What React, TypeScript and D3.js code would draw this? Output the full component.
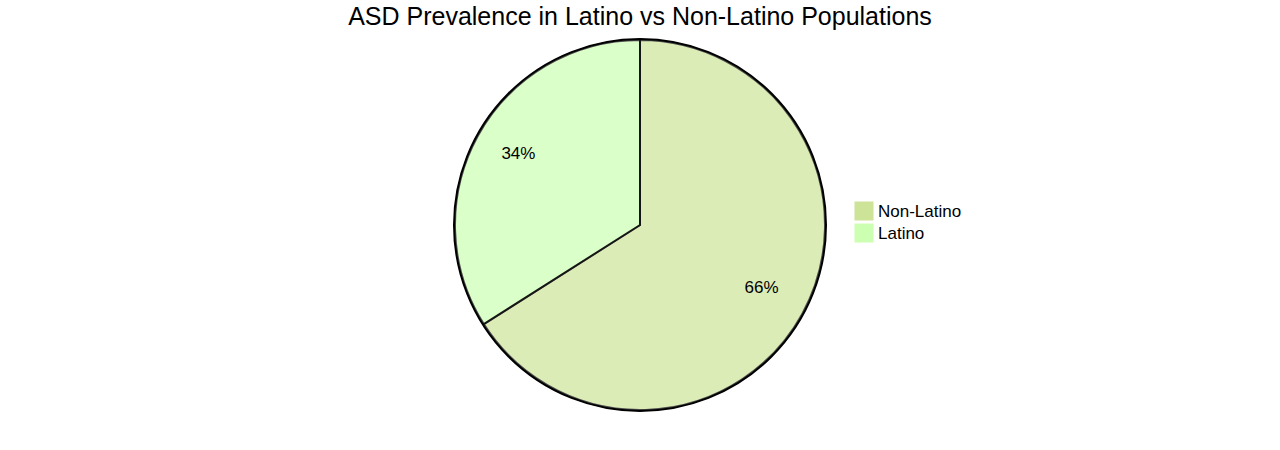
import React from "react";
import * as d3 from "d3";

const title = "ASD Prevalence in Latino vs Non-Latino Populations";
const categories = ["Non-Latino", "Latino"];
const values = [66, 34];
const colors = ["#cde498", "#cdffb2"];

const W = 1280;
const H = 450;
const cx = 640;
const cy = 225;
const R = 185;
const FONT = '"Liberation Sans", Arial, sans-serif';

export default function App() {
  const data = categories.map((c, i) => ({ label: c, value: values[i], color: colors[i] }));
  const pie = d3.pie<any>().value((d) => d.value).sort(null);
  const arcs = pie(data);
  const arc = d3.arc<any>().innerRadius(0).outerRadius(R);
  const labelArc = d3.arc<any>().innerRadius(R * 0.75).outerRadius(R * 0.75);
  const total = d3.sum(values);

  return (
    <div style={{ position: "absolute", left: 0, top: 0 }}>
      <svg width={W} height={H} style={{ display: "block", fontFamily: FONT }}>
        <text x={cx} y={25} textAnchor="middle" fontSize={25} fill="#000">
          {title}
        </text>
        <g transform={`translate(${cx},${cy})`}>
          {arcs.map((a, i) => (
            <path
              key={i}
              d={arc(a) as string}
              fill={a.data.color}
              stroke="#000"
              strokeWidth={2}
              opacity={0.7}
            />
          ))}
          {arcs.map((a, i) => {
            const [x, y] = labelArc.centroid(a);
            return (
              <text key={"t" + i} x={x} y={y + 1} textAnchor="middle" fontSize={17} fill="#000">
                {Math.round((a.data.value / total) * 100) + "%"}
              </text>
            );
          })}
          <circle r={R + 1} fill="none" stroke="#000" strokeWidth={2} />
        </g>
        {data.map((d, i) => (
          <g key={"l" + i} transform={`translate(855,${202 + i * 22})`}>
            <rect width={18} height={18} fill={d.color} stroke={d.color} />
            <text x={23} y={15} fontSize={17} fill="#000">
              {d.label}
            </text>
          </g>
        ))}
      </svg>
    </div>
  );
}
